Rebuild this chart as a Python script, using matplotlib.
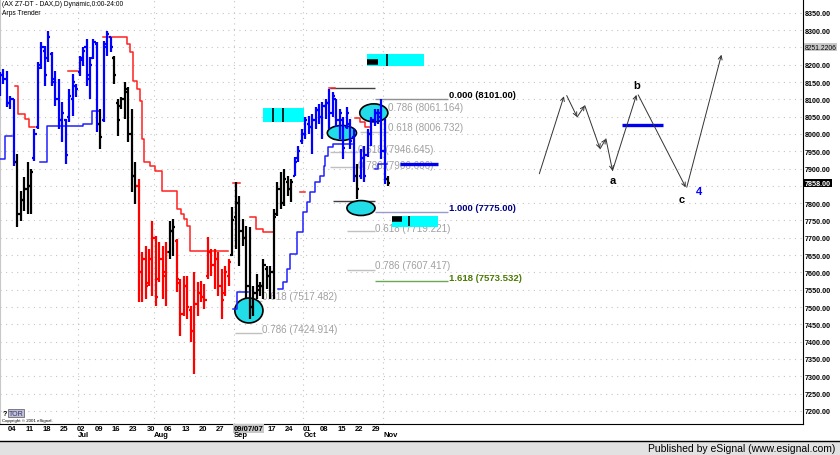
import matplotlib
matplotlib.use("Agg")
import matplotlib.pyplot as plt
from matplotlib.patches import Ellipse, Rectangle
from matplotlib.lines import Line2D
from matplotlib.transforms import blended_transform_factory

plt.rcParams['font.family'] = ['Liberation Sans', 'DejaVu Sans']

# trading-day index, 0 = Mon 04 Jun 2007
first_idx = -3
bar_hi = [8180, 8188, 8182, 8110, 8101,
          7943, 7836, 7876, 7919, 7899,
          8015, 8208, 8266, 8255, 8298, 8237, 8182, 8159, 8093, 8044, 8130, 8174, 8145, 8226, 8252, 8275, 8223, 8275, 8266,
          8073,
          8269, 8298, 8281,
          8226, 8101, 8107, 8151, 8136, 8073, 7919,
          7870, 7659, 7677, 7668, 7749, 7706, 7688, 7677, 7688,
          7749, 7755,
          7697, 7581, 7590, 7590, 7503, 7601, 7573, 7576, 7567, 7703, 7668, 7668, 7659, 7610, 7619, 7639,
          7789, 7862, 7821, 7755, 7734, 7731, 7561, 7596, 7573, 7639, 7619, 7619, 7784, 7862, 7891, 7899, 7879, 7870,
          7934, 7966, 8015, 8049, 8052, 8058, 8078, 8087, 8093, 8101, 8130, 8122, 8101, 8073, 8049, 8078, 8044, 8015,
          7914,
          7957, 7966, 8015, 8049, 8073, 8073, 8101, 8044,
          7879]
bar_lo = [8110, 8145, 8078, 8073, 7908,
          7731, 7749, 7778, 7769, 7769,
          7922, 8015, 8188, 8139, 8208, 8139, 8081, 8015, 7977, 7914, 8035, 8052, 8107, 8168, 8197, 8139, 8101, 8217, 8006,
          7957,
          8035, 8226, 8237,
          8145, 7995, 8073, 8044, 7977, 7833, 7798,
          7515, 7515, 7523, 7561, 7532, 7503, 7573, 7523, 7503,
          7639, 7648,
          7544, 7417, 7474, 7466, 7399, 7307, 7474, 7515, 7495, 7581, 7590, 7552, 7532, 7466, 7532, 7561,
          7648, 7668, 7619, 7677, 7523, 7466, 7474, 7523, 7532, 7523, 7552, 7523, 7523, 7763, 7784, 7792, 7821, 7804,
          7879, 7919, 7971, 7986, 8000, 7943, 8015, 8029, 7986, 8044, 8015, 8049, 8021, 7986, 7928, 8015, 7957, 7862,
          7812,
          7870, 7862, 7934, 7966, 8023, 8029, 7928, 7856,
          7850]
bar_op = [8150, 8170, 8160, 8090, 8100,
          7920, 7770, 7810, 7840, 7850,
          7930, 8020, 8200, 8240, 8220, 8230, 8150, 8100, 8040, 8040, 8050, 8100, 8140, 8180, 8220, 8250, 8170, 8220, 8260,
          8030,
          8040, 8260, 8280,
          8220, 8090, 8080, 8100, 8120, 8000, 7880,
          7850, 7600, 7640, 7570, 7640, 7700, 7580, 7640, 7600,
          7660, 7720,
          7690, 7570, 7480, 7560, 7490, 7430, 7510, 7540, 7530, 7590, 7660, 7620, 7640, 7560, 7540, 7590,
          7650, 7760, 7800, 7720, 7700, 7560, 7500, 7540, 7550, 7560, 7610, 7590, 7600, 7770, 7840, 7800, 7860, 7840,
          7880, 7930, 7980, 8000, 8030, 8020, 8040, 8070, 8050, 8080, 8090, 8060, 8100, 8040, 8040, 8020, 8030, 7990,
          7880,
          7880, 7930, 7940, 8000, 8040, 8060, 8060, 7950,
          7870]
bar_cl = [8170, 8160, 8090, 8100, 7920,
          7770, 7810, 7840, 7850, 7890,
          8000, 8190, 8250, 8170, 8280, 8160, 8100, 8040, 8060, 7940, 8110, 8150, 8130, 8215, 8240, 8160, 8200, 8265, 8030,
          7990,
          8250, 8290, 8250,
          8170, 8040, 8100, 8130, 8000, 7880, 7850,
          7600, 7640, 7560, 7640, 7700, 7530, 7640, 7590, 7660,
          7720, 7730,
          7580, 7480, 7560, 7500, 7430, 7510, 7540, 7530, 7520, 7660, 7620, 7640, 7560, 7520, 7600, 7630,
          7750, 7800, 7720, 7700, 7560, 7500, 7540, 7560, 7560, 7620, 7590, 7600, 7760, 7840, 7800, 7870, 7840, 7860,
          7920, 7950, 8000, 8040, 8020, 8040, 8070, 8050, 8080, 8090, 8060, 8110, 8040, 8060, 7960, 8060, 7980, 7880,
          7840,
          7930, 7880, 8000, 8040, 8060, 8050, 7950, 7870,
          7858]
bar_kind = ("BBBBB" "KKKKK" "BBBBBBBBBBBBBBBBBBB" "K" "BBB" "KKKKKKK" "RRRRRRRRR" "KK"
            "RRRRRRRRRRRRRRRR" "KKKKKKKKKKKKKKKKKK" "BBBBBBBBBBBBBBBBBB" "K" "BBBBBBBB" "K")

# Arps trender stairs (index, price)
blue_stairs = [
    ([-3, -1.5, 0.5], [7928, 7995, 7995]),
    ([8.6, 10.6, 21, 23.6, 26], [7919, 8023, 8029, 8067, 8067]),
    ([64.2, 65.4, 68.5], [7495, 7544, 7544]),
    ([77.2, 78.6, 79.8, 80.6, 82.7, 84.4, 85.5, 86.4, 87.8, 89.3, 90.3, 90.7, 91.6, 93, 98.5],
     [7552, 7573, 7610, 7654, 7717, 7775, 7804, 7833, 7862, 7879, 7908, 7937, 7963, 7971, 7971]),
    ([105.1, 106, 108.6], [7899, 7914, 7914]),
]
red_stairs = [
    ([1.4, 2.2, 4.3, 5.4, 7.1], [8139, 8058, 8044, 8021, 8021]),
    ([16.7, 19.5], [8182, 8182]),
    ([26.7, 33.7, 34.5, 35.4, 36.5, 37.4, 38.0, 38.6, 40.3, 41.7, 43.7, 48.1, 49.2, 50.1, 50.9, 51.8, 62.8],
     [8281, 8260, 8237, 8153, 8130, 8096, 7986, 7919, 7908, 7893, 7836, 7784, 7769, 7755, 7734, 7662, 7662]),
    ([69.1, 70.8, 72.9, 75.7], [7760, 7726, 7717, 7717]),
    ([99.4, 100.8, 102.2, 104], [8047, 8035, 8021, 8021]),
    ([64.3, 66.2], [7859, 7859]),
    ([83.5, 85.0], [7833, 7833]),
    ([91.9, 93.6], [8133, 8133]),
]

# fib levels: (start idx, end idx, price, colour)
fib_lines = [
    (92.2, 105.1, 8133, '#404040'),
    (105.1, 126.2, 8101, '#909090'),
    (100.8, 108.9, 8061, '#c0c0c0'),
    (100.8, 108.9, 8007, '#c0c0c0'),
    (92.2, 100.2, 7947, '#c0c0c0'),
    (92.2, 100.2, 7906, '#c0c0c0'),
    (93.1, 105.1, 7807, '#404040'),
    (105.1, 126.2, 7775, '#9999cc'),
    (97.1, 105.1, 7719, '#c0c0c0'),
    (97.1, 105.1, 7607, '#c0c0c0'),
    (105.1, 126.2, 7574, '#66aa55'),
    (64.8, 72.6, 7517, '#c0c0c0'),
    (64.8, 72.6, 7425, '#c0c0c0'),
]
fib_labels = [
    (126.5, 8113, '0.000 (8101.00)', '#000000'),
    (108.9, 8078, '0.786 (8061.164)', '#a0a0a0'),
    (108.9, 8021, '0.618 (8006.732)', '#a0a0a0'),
    (100.2, 7957, '0.618 (7946.645)', '#a0a0a0'),
    (100.2, 7911, '0.786 (7906.606)', '#a0a0a0'),
    (126.5, 7787, '1.000 (7775.00)', '#000080'),
    (105.1, 7729, '0.618 (7719.221)', '#a0a0a0'),
    (105.1, 7622, '0.786 (7607.417)', '#a0a0a0'),
    (126.5, 7584, '1.618 (7573.532)', '#4a7a00'),
    (72.6, 7532, '0.618 (7517.482)', '#a0a0a0'),
    (72.6, 7437, '0.786 (7424.914)', '#a0a0a0'),
]

# cyan ellipses: centre idx, centre price, width idx, height price
ellipses = [(68.8, 7490, 8.1, 72), (95.6, 8003, 8.4, 43), (104.8, 8061, 8.1, 52), (101.1, 7786, 8.1, 43)]
# cyan boxes: idx0, idx1, price0, price1
boxes = [(72.9, 84.7, 8035, 8075), (102.8, 119.2, 8197, 8232), (110, 123.3, 7731, 7763)]
box_ticks = [(75.7, 8035, 8075), (78.6, 8035, 8075), (108.6, 8197, 8232), (114.9, 7734, 7763)]
box_bars = [(102.8, 106, 8207), (110, 112.9, 7755)]
blue_marks = [(112.3, 123.3, 7914), (176.3, 188.1, 8026)]

# projected wave path
wave_i = [152.5, 159.6, 160.4, 163.4, 165.6, 170, 171.7, 173.6, 180.5, 181, 194.7, 195, 205]
wave_p = [7885, 8109, 8111, 8049, 8082, 7957, 7986, 7894, 8113, 8113, 7846, 7846, 8229]
wave_segs = [(0, 1), (2, 3), (3, 4), (4, 5), (5, 6), (6, 7), (7, 8), (9, 10), (11, 12)]
wave_text = [(173.7, 7868, 'a', 'black'), (180.6, 8142, 'b', 'black'), (193.6, 7812, 'c', 'black'),
             (198.5, 7836, '4', '#0000ff')]

week_idx = [0, 5, 10, 15, 20, 25, 30, 35, 40, 45, 50, 55, 60, 75, 80, 85, 90, 95, 100, 105]
week_lab = ['04', '11', '18', '25', '02', '09', '16', '23', '30', '06', '13', '20', '27',
            '17', '24', '01', '08', '15', '22', '29']
month_idx = [20, 42, 65, 85, 108]
month_lab = ['Jul', 'Aug', 'Sep', 'Oct', 'Nov']
price_ticks = [p for p in range(7200, 8351, 50) if p not in (8250, 7850)]

colmap = {'B': '#0000ff', 'K': '#000000', 'R': '#ff0000'}

fig = plt.figure(figsize=(8.4, 4.56), dpi=100)
ax = fig.add_axes([0.0, 31 / 456, 803 / 840, 425 / 456])
ax.set_xlim(-2.94, 228.5)
ax.set_ylim(7162, 8390)

for p in range(7200, 8400, 50):
    ax.axhline(p, color='#c4c4c4', lw=0.8, ls=(0, (1, 4)), zorder=0)
for m in month_idx:
    ax.axvline(m - 0.5, color='#c4c4c4', lw=0.8, ls=(0, (1, 4)), zorder=0)

# fib lines and labels
for x0, x1, p, c in fib_lines:
    ax.hlines(p, x0, x1, color=c, lw=1, zorder=1)
for x, p, t, c in fib_labels:
    bold = c != '#a0a0a0'
    ax.text(x, p, t, color=c, fontsize=6.8 if bold else 7.1, va='center', ha='left', zorder=2,
            fontweight='bold' if bold else 'normal')

# cyan boxes and ellipses
for x0, x1, p0, p1 in boxes:
    ax.add_patch(Rectangle((x0, p0), x1 - x0, p1 - p0, facecolor='#00ffff', edgecolor='none', zorder=2))
for x, p0, p1 in box_ticks:
    ax.vlines(x, p0, p1, color='black', lw=1.2, zorder=3)
for x0, x1, p in box_bars:
    ax.hlines(p, x0, x1, color='black', lw=4, zorder=3)
for x, p, w, h in ellipses:
    ax.add_patch(Ellipse((x, p), w, h, facecolor='#22dde8', edgecolor='black', lw=1.2, zorder=3))
for x0, x1, p in blue_marks:
    ax.hlines(p, x0, x1, color='#0000ee', lw=2.4, zorder=4)

# trender stairs
for xs, ps in blue_stairs:
    ax.plot(xs, ps, drawstyle='steps-post', color='#2020ff', lw=1.1, zorder=4)
for xs, ps in red_stairs:
    ax.plot(xs, ps, drawstyle='steps-post', color='#ff2020', lw=1.1, zorder=4)

# OHLC bars
for k in range(len(bar_hi)):
    x = first_idx + k
    c = colmap[bar_kind[k]]
    ax.vlines(x, bar_lo[k], bar_hi[k], color=c, lw=1.6, zorder=6)
    ax.hlines(bar_op[k], x - 0.6, x, color=c, lw=1.6, zorder=6)
    ax.hlines(bar_cl[k], x, x + 0.6, color=c, lw=1.6, zorder=6)

# wave sketch
for a, b in wave_segs:
    ax.annotate('', xy=(wave_i[b], wave_p[b]), xytext=(wave_i[a], wave_p[a]),
                arrowprops=dict(arrowstyle='->', color='#333333', lw=0.7, shrinkA=0, shrinkB=0,
                                mutation_scale=7), zorder=5)
for x, p, t, c in wave_text:
    ax.text(x, p, t, color=c, fontsize=8, fontweight='bold', ha='center', va='center', zorder=6)

# axes look
ax.set_xticks([])
ax.yaxis.tick_right()
ax.set_yticks(price_ticks)
ax.set_yticklabels([f"{p:.2f}" for p in price_ticks])
ax.tick_params(axis='y', length=0, pad=1.5, labelsize=5.1)
for lab in ax.get_yticklabels():
    lab.set_fontweight('bold')
ax.spines['top'].set_visible(False)
ax.spines['left'].set_color('#c8c8c8')
ax.spines['right'].set_color('black')
ax.spines['bottom'].set_color('black')

yt = blended_transform_factory(ax.transAxes, ax.transData)
ax.text(1.002, 8251.2206, '8251.2206', transform=yt, fontsize=4.9, va='center',
        ha='left', bbox=dict(facecolor='#c8c8c8', edgecolor='none', pad=0.6), clip_on=False)
ax.text(1.002, 7858, '7858.00', transform=yt, fontsize=5.1, fontweight='bold', va='center', ha='left',
        color='white', bbox=dict(facecolor='black', edgecolor='none', pad=0.6), clip_on=False)

xt = ax.get_xaxis_transform()
for i, t in zip(week_idx, week_lab):
    ax.text(i + 0.5, -0.002, t, transform=xt, fontsize=5.5, fontweight='bold', ha='center', va='top',
            clip_on=False)
ax.text(64.5, -0.002, '09/07/07', transform=xt, fontsize=5.5, fontweight='bold', ha='left', va='top',
        bbox=dict(facecolor='#c8c8c8', edgecolor='none', pad=0.5), clip_on=False)
for i, t in zip(month_idx, month_lab):
    ax.text(i - 0.5, -0.017, t, transform=xt, fontsize=5.5, fontweight='bold', ha='left', va='top',
            clip_on=False)

# header and footer text
fig.text(2 / 840, 1 - 5 / 456, '(AX Z7-DT - DAX,D) Dynamic,0:00-24:00', fontsize=4.8, va='center', ha='left')
fig.text(2 / 840, 1 - 13.5 / 456, 'Arps Trender', fontsize=4.8, va='center', ha='left')
fig.text(3 / 840, 1 - 414 / 456, '?', fontsize=5, fontweight='bold', va='center', ha='left')
fig.text(9 / 840, 1 - 414 / 456, 'TOR', fontsize=5, va='center', ha='left', color='#333366',
         bbox=dict(facecolor='#c0c0d8', edgecolor='#555555', lw=0.5, pad=0.4))
fig.text(2 / 840, 1 - 421 / 456, 'Copyright \u00a9 2001 eSignal.', fontsize=3.2, va='center', ha='left')

fig.add_artist(Rectangle((0, 0), 1, 13 / 456, transform=fig.transFigure, facecolor='#e2e2e2',
                         edgecolor='none'))
fig.add_artist(Line2D([0, 1], [1 - 442 / 456] * 2, transform=fig.transFigure, color='black', lw=1))
fig.text(835 / 840, 6.5 / 456, 'Published by eSignal (www.esignal.com)', fontsize=7.5, ha='right',
         va='center')

fig.savefig('out.png', dpi=100)
